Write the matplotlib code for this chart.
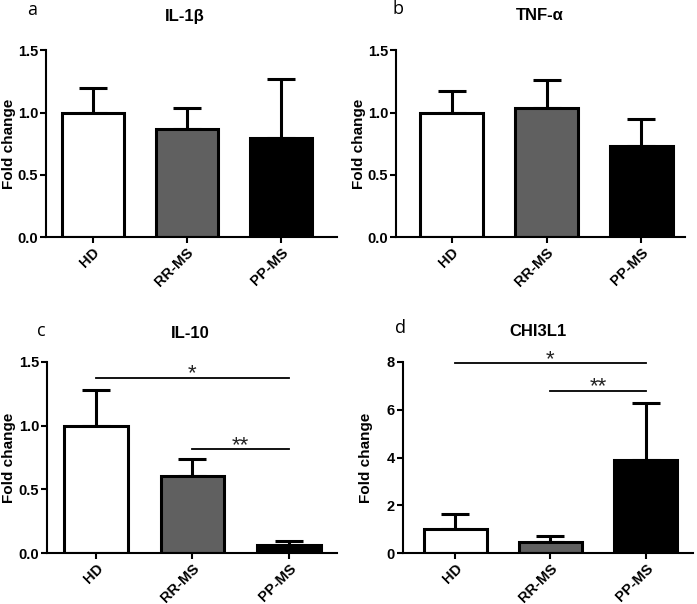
import matplotlib
matplotlib.use("Agg")
import matplotlib.pyplot as plt

plt.rcParams['font.family'] = ['Liberation Sans', 'DejaVu Sans']

categories = ["HD", "RR-MS", "PP-MS"]
colors = ["white", "#606060", "black"]

il1b_mean = [1.00, 0.87, 0.80]
il1b_err = [0.20, 0.17, 0.47]
tnfa_mean = [1.00, 1.04, 0.73]
tnfa_err = [0.17, 0.22, 0.22]
il10_mean = [1.00, 0.605, 0.068]
il10_err = [0.28, 0.136, 0.026]
chi_mean = [1.00, 0.47, 3.90]
chi_err = [0.64, 0.24, 2.36]

titles = ["IL-1\u03b2", "TNF-\u03b1", "IL-10", "CHI3L1"]
letters = ["a", "b", "c", "d"]
ylims = [1.5, 1.5, 1.5, 8]
yticks = [[0.0, 0.5, 1.0, 1.5], [0.0, 0.5, 1.0, 1.5], [0.0, 0.5, 1.0, 1.5], [0, 2, 4, 6, 8]]
ytick_labels = [["0.0", "0.5", "1.0", "1.5"]] * 3 + [["0", "2", "4", "6", "8"]]
means = [il1b_mean, tnfa_mean, il10_mean, chi_mean]
errs = [il1b_err, tnfa_err, il10_err, chi_err]

# significance: (i, j, y, label)
sig_c = [(0, 2, 1.375, "*"), (1, 2, 0.814, "**")]
sig_d = [(0, 2, 7.93, "*"), (1, 2, 6.79, "**")]
sigs = [[], [], sig_c, sig_d]

W, H = 697, 604
fig = plt.figure(figsize=(W / 100, H / 100), dpi=100)

# axes boxes in pixels: left, right, top, bottom
boxes = [(45.7, 337, 50.3, 237.3), (395.7, 685, 50.3, 237.3),
         (46.7, 337, 361.7, 553.3), (402.7, 693.3, 361.7, 553.3)]
xlims = [(-0.5, 2.6), (-0.59, 2.46), (-0.51, 2.5), (-0.55, 2.5)]
ylabel_x = [9, 359, 9, 366]
letter_pos = [(27, 10), (393, 9), (37, 331), (395, 328)]
title_pos = [(185, 16), (540, 16), (190, 333), (538, 332)]

for k in range(4):
    l, r, t, b = boxes[k]
    ax = fig.add_axes([l / W, 1 - b / H, (r - l) / W, (b - t) / H])
    x = range(len(categories))
    ax.bar(x, means[k], width=0.66, color=colors, edgecolor="black", linewidth=2.2, zorder=2)
    ax.errorbar(x, means[k], yerr=[[0] * 3, errs[k]], fmt="none", ecolor="black",
                elinewidth=2.2, capsize=10, capthick=2.2, zorder=1)
    ax.set_xlim(*xlims[k])
    ax.set_ylim(0, ylims[k])
    ax.set_yticks(yticks[k])
    ax.set_yticklabels(ytick_labels[k], fontsize=10.5, fontweight="bold")
    ax.set_xticks(list(x))
    ax.set_xticklabels(categories, rotation=45, ha="right", va="top",
                       rotation_mode="anchor", fontsize=10.5, fontweight="bold")
    for s in ["top", "right"]:
        ax.spines[s].set_visible(False)
    for s in ["left", "bottom"]:
        ax.spines[s].set_linewidth(1.5)
    ax.tick_params(width=1.5, length=4, direction="out", pad=1.5)
    ax.set_ylabel("Fold change", fontsize=11, fontweight="bold", va="center")
    ax.yaxis.set_label_coords((ylabel_x[k] - l) / (r - l), 0.5)
    for (i, j, y, lab) in sigs[k]:
        ax.plot([i, j], [y, y], color="black", linewidth=1.3, clip_on=False)
        ax.annotate(lab, xy=((i + j) / 2, y), xytext=(0, -1), textcoords="offset points",
                    ha="center", va="baseline", fontsize=16, color="#222222",
                    annotation_clip=False)
    fig.text(letter_pos[k][0] / W, 1 - letter_pos[k][1] / H, letters[k],
             fontsize=13, ha="left", va="center", family="Open Sans")
    fig.text(title_pos[k][0] / W, 1 - title_pos[k][1] / H, titles[k],
             fontsize=12, fontweight="bold", ha="center", va="center")

fig.savefig("out.png", dpi=100)
